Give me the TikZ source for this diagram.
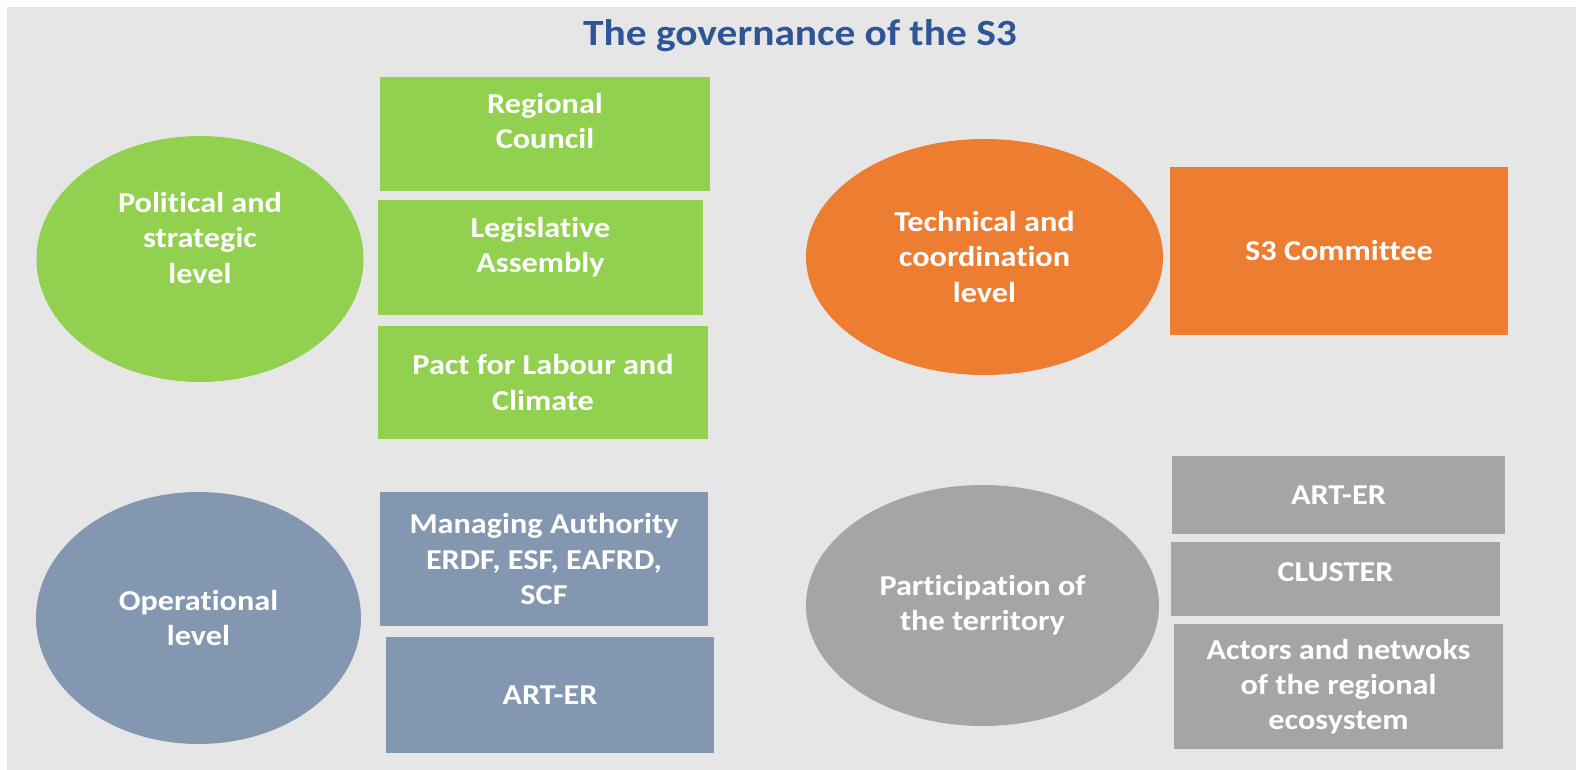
\documentclass[tikz,border=0pt]{standalone}
\usepackage{fontspec}
\setmainfont{Carlito}[FakeStretch=1.12, Ligatures=NoCommon]
\usetikzlibrary{shapes.geometric}

\definecolor{bggray}{HTML}{E7E6E6}
\definecolor{titleblue}{HTML}{2F5597}
\definecolor{polgreen}{HTML}{92D050}
\definecolor{techorange}{HTML}{ED7D31}
\definecolor{opblue}{HTML}{8497B0}
\definecolor{partgray}{HTML}{A5A5A5}

\tikzset{
  lvl/.style={ellipse, inner sep=0pt, text=white, align=center,
    font=\bfseries\fontsize{14.4}{17.6}\selectfont},
  unit/.style={rectangle, inner sep=0pt, text=white, align=center,
    font=\bfseries\fontsize{14.4}{17.6}\selectfont},
  lbl/.style={text=white, align=center, inner sep=0pt,
    font=\bfseries\fontsize{14.4}{17.6}\selectfont}
}

\begin{document}
\begin{tikzpicture}[x=0.5pt, y=-0.5pt]
  \useasboundingbox (0,0) rectangle (1576,770);
  \fill[bggray] (7,7) rectangle (1576,770);

  \node[text=titleblue, font=\bfseries\fontsize{18.5}{22}\selectfont]
    (title) at (800,36) {The governance of the S3};

  % political and strategic level
  \node[lvl, fill=polgreen, minimum width=163.5pt, minimum height=123pt,
    label={[lbl, yshift=10.5pt]center:Political and\\strategic\\level}]
    (pol) at (200,259) {};
  \node[unit, fill=polgreen, minimum width=165pt, minimum height=57pt,
    label={[lbl, yshift=6.5pt]center:Regional\\Council}]
    (council) at (545,134) {};
  \node[unit, fill=polgreen, minimum width=162.5pt, minimum height=57.5pt,
    label={[lbl, yshift=5pt]center:Legislative\\Assembly}]
    (assembly) at (540.5,257.5) {};
  \node[unit, fill=polgreen, minimum width=165pt, minimum height=56.5pt]
    (pact) at (543,382.5) {Pact for Labour and\\Climate};

  % technical and coordination level
  \node[lvl, fill=techorange, minimum width=178.5pt, minimum height=118pt]
    (tech) at (984.5,257) {Technical and\\coordination\\level};
  \node[unit, fill=techorange, minimum width=169pt, minimum height=84pt]
    (committee) at (1339,251) {S3 Committee};

  % operational level
  \node[lvl, fill=opblue, minimum width=162.5pt, minimum height=126pt]
    (op) at (198.5,618) {Operational\\level};
  \node[unit, fill=opblue, minimum width=164pt, minimum height=67pt]
    (authority) at (544,559) {Managing Authority\\ERDF, ESF, EAFRD,\\SCF};
  \node[unit, fill=opblue, minimum width=164pt, minimum height=58pt]
    (arter1) at (550,695) {ART-ER};

  % participation of the territory
  \node[lvl, fill=partgray, minimum width=176.5pt, minimum height=120.5pt]
    (part) at (982.5,605.5) {Participation of\\the territory};
  \node[unit, fill=partgray, minimum width=166.5pt, minimum height=39pt]
    (arter2) at (1338.5,495) {ART-ER};
  \node[unit, fill=partgray, minimum width=164.5pt, minimum height=37pt,
    label={[lbl, yshift=3.5pt]center:CLUSTER}]
    (cluster) at (1335.5,579) {};
  \node[unit, fill=partgray, minimum width=164.5pt, minimum height=62.5pt]
    (actors) at (1338.5,686.5) {Actors and netwoks\\of the regional\\ecosystem};
\end{tikzpicture}
\end{document}
